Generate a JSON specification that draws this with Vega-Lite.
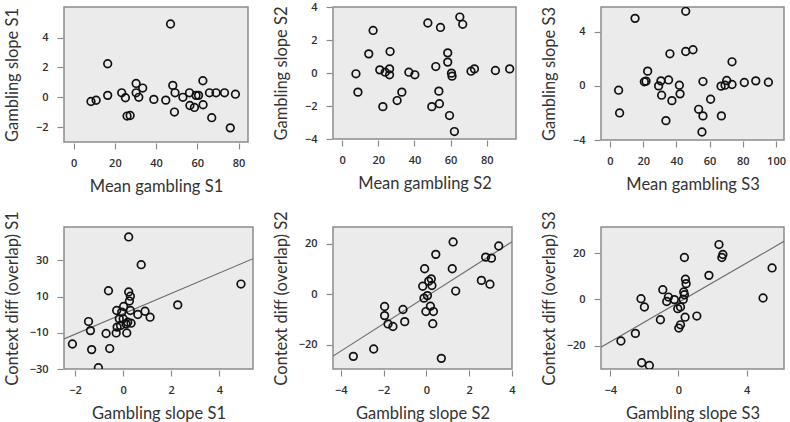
{
"$schema": "https://vega.github.io/schema/vega-lite/v6.json",
"background": "white",
"padding": {"left": 3, "top": 0, "right": 0, "bottom": 0},
"bounds": "flush",
"spacing": 220,
"config": {
  "view": {"fill": "#ebebeb", "stroke": "#8c8c8c", "strokeWidth": 1.5},
  "axis": {"domain": false, "grid": false, "tickColor": "#8a8a8a", "tickSize": 6, "tickWidth": 1.2, "offset": 1,
           "labelFont": "Open Sans", "labelFontSize": 11, "labelFontWeight": 600, "labelColor": "#2e2e2e", "labelFlush": false, "labelOverlap": false,
           "titleFont": "Lato", "titleFontSize": 16.5, "titleFontWeight": "normal", "titleColor": "#333333"},
  "axisX": {"labelPadding": 8, "minExtent": 25, "maxExtent": 25, "titlePadding": 10},
  "axisY": {"labelPadding": 9, "minExtent": 28, "maxExtent": 28, "titlePadding": 15},
  "point": {"shape": "circle", "filled": false, "stroke": "#111111", "strokeWidth": 1.7, "size": 58, "opacity": 1}
},
"vconcat": [
  {"bounds": "flush", "spacing": 85, "hconcat": [
    {"width": 184, "height": 135,
     "data": {"values": [
       {"mean":8.4,"slope":-0.28},{"mean":10.9,"slope":-0.2},{"mean":16.5,"slope":2.25},{"mean":16.5,"slope":0.13},
       {"mean":23.3,"slope":0.3},{"mean":25.1,"slope":-0.03},{"mean":25.9,"slope":-1.26},{"mean":27.4,"slope":-1.22},
       {"mean":30.3,"slope":0.93},{"mean":30.3,"slope":0.3},{"mean":31.6,"slope":0},{"mean":33.5,"slope":0.62},
       {"mean":38.9,"slope":-0.14},{"mean":44.7,"slope":-0.19},{"mean":47.0,"slope":4.92},{"mean":48.1,"slope":0.8},
       {"mean":49.2,"slope":0.3},{"mean":48.9,"slope":-0.99},{"mean":53.0,"slope":0},{"mean":56.2,"slope":0.3},
       {"mean":56.4,"slope":-0.55},{"mean":58.6,"slope":-0.68},{"mean":59.4,"slope":0.13},{"mean":60.6,"slope":0.13},
       {"mean":62.7,"slope":1.11},{"mean":62.8,"slope":-0.5},{"mean":65.9,"slope":0.3},{"mean":69.1,"slope":0.3},
       {"mean":67.0,"slope":-1.37},{"mean":73.2,"slope":0.3},{"mean":76.0,"slope":-2.05},{"mean":78.5,"slope":0.21}]},
     "mark": {"type": "point", "clip": true},
     "encoding": {
       "x": {"field": "mean", "type": "quantitative", "title": "Mean gambling S1", "scale": {"domain": [-4.7, 84.6], "nice": false, "zero": false}, "axis": {"values": [0, 20, 40, 60, 80]}},
       "y": {"field": "slope", "type": "quantitative", "title": "Gambling slope S1", "scale": {"domain": [-3.0, 6.06], "nice": false, "zero": false}, "axis": {"values": [-2, 0, 2, 4]}}}},
    {"width": 183, "height": 132,
     "data": {"values": [
       {"mean":7.6,"slope":-0.05},{"mean":8.7,"slope":-1.16},{"mean":17.1,"slope":2.58},{"mean":14.7,"slope":1.16},
       {"mean":20.8,"slope":0.19},{"mean":22.5,"slope":-2.04},{"mean":23.8,"slope":0.05},{"mean":26.2,"slope":0.25},
       {"mean":26.2,"slope":-0.11},{"mean":26.5,"slope":1.3},{"mean":30.4,"slope":-1.67},{"mean":33.0,"slope":-1.16},
       {"mean":36.9,"slope":0.05},{"mean":40.2,"slope":-0.11},{"mean":47.4,"slope":3.03},{"mean":49.6,"slope":-2.04},
       {"mean":51.8,"slope":0.39},{"mean":53.5,"slope":-1.1},{"mean":53.8,"slope":-1.86},{"mean":54.4,"slope":2.76},
       {"mean":58.4,"slope":1.22},{"mean":58.4,"slope":0.66},{"mean":59.4,"slope":-2.58},{"mean":60.5,"slope":-0.01},
       {"mean":60.8,"slope":-0.19},{"mean":62.1,"slope":-3.55},{"mean":65.1,"slope":3.39},{"mean":66.7,"slope":2.95},
       {"mean":71.3,"slope":0.11},{"mean":73.2,"slope":0.25},{"mean":84.8,"slope":0.15},{"mean":92.7,"slope":0.25}]},
     "mark": {"type": "point", "clip": true},
     "encoding": {
       "x": {"field": "mean", "type": "quantitative", "title": "Mean gambling S2", "scale": {"domain": [-5.1, 96.2], "nice": false, "zero": false}, "axis": {"values": [0, 20, 40, 60, 80]}},
       "y": {"field": "slope", "type": "quantitative", "title": "Gambling slope S2", "scale": {"domain": [-4, 4], "nice": false, "zero": false}, "axis": {"values": [-4, -2, 0, 2, 4]}}}},
    {"width": 183, "height": 133,
     "data": {"values": [
       {"mean":5.2,"slope":-0.32},{"mean":5.8,"slope":-2.0},{"mean":15.1,"slope":4.99},{"mean":20.7,"slope":0.3},
       {"mean":22.7,"slope":1.09},{"mean":21.7,"slope":0.35},{"mean":29.3,"slope":0},{"mean":30.7,"slope":0.37},
       {"mean":31.1,"slope":-0.69},{"mean":33.7,"slope":-2.57},{"mean":35.3,"slope":0.44},{"mean":36.1,"slope":2.37},
       {"mean":37.3,"slope":-1.09},{"mean":41.8,"slope":0.05},{"mean":42.2,"slope":-0.59},{"mean":45.6,"slope":5.51},
       {"mean":45.6,"slope":2.54},{"mean":50.0,"slope":2.67},{"mean":53.4,"slope":-1.73},{"mean":56.0,"slope":0.32},
       {"mean":56.0,"slope":-2.22},{"mean":55.4,"slope":-3.41},{"mean":60.6,"slope":-0.99},{"mean":66.9,"slope":-0.02},
       {"mean":67.1,"slope":-2.22},{"mean":70.3,"slope":0.4},{"mean":69.3,"slope":0.05},{"mean":73.5,"slope":1.78},
       {"mean":73.5,"slope":0.1},{"mean":80.9,"slope":0.25},{"mean":87.8,"slope":0.37},{"mean":95.4,"slope":0.27}]},
     "mark": {"type": "point", "clip": true},
     "encoding": {
       "x": {"field": "mean", "type": "quantitative", "title": "Mean gambling S3", "scale": {"domain": [-5.4, 104.8], "nice": false, "zero": false}, "axis": {"values": [0, 20, 40, 60, 80, 100]}},
       "y": {"field": "slope", "type": "quantitative", "title": "Gambling slope S3", "scale": {"domain": [-4, 5.83], "nice": false, "zero": false}, "axis": {"values": [-4, 0, 4]}}}}
  ]},
  {"bounds": "flush", "spacing": 80, "hconcat": [
    {"width": 189, "height": 142,
     "encoding": {
       "x": {"field": "slope", "type": "quantitative", "title": "Gambling slope S1", "scale": {"domain": [-2.46, 5.4], "nice": false, "zero": false}, "axis": {"values": [-2, 0, 2, 4]}},
       "y": {"field": "context_diff", "type": "quantitative", "title": "Context diff (overlap) S1", "scale": {"domain": [-30, 48.4], "nice": false, "zero": false}, "axis": {"values": [-30, -10, 10, 30]}}},
     "layer": [
       {"data": {"values": [{"slope":-2.46,"context_diff":-13.4},{"slope":5.4,"context_diff":30.9}]},
        "mark": {"type": "line", "color": "#6e6e6e", "strokeWidth": 1.2, "clip": true}},
       {"data": {"values": [
         {"slope":-2.11,"context_diff":-16.2},{"slope":-1.44,"context_diff":-3.8},{"slope":-1.36,"context_diff":-8.8},
         {"slope":-1.31,"context_diff":-19.3},{"slope":-1.03,"context_diff":-29.3},{"slope":-0.71,"context_diff":-10.4},
         {"slope":-0.61,"context_diff":13.2},{"slope":-0.56,"context_diff":-18.7},{"slope":-0.29,"context_diff":-10.1},
         {"slope":-0.25,"context_diff":-6.9},{"slope":-0.27,"context_diff":2.3},{"slope":-0.16,"context_diff":-2.3},
         {"slope":-0.06,"context_diff":1.4},{"slope":0.02,"context_diff":4.5},{"slope":0.12,"context_diff":-5.1},
         {"slope":0.15,"context_diff":-10.1},{"slope":0.19,"context_diff":-4.2},{"slope":0.23,"context_diff":42.9},
         {"slope":0.23,"context_diff":12.5},{"slope":0.26,"context_diff":7.5},{"slope":0.3,"context_diff":10.2},
         {"slope":0.3,"context_diff":2.3},{"slope":0.33,"context_diff":-4.7},{"slope":0.61,"context_diff":0.1},
         {"slope":0.75,"context_diff":27.6},{"slope":0.91,"context_diff":1.9},{"slope":1.12,"context_diff":-1.4},
         {"slope":2.27,"context_diff":5.4},{"slope":4.9,"context_diff":16.9},{"slope":0.0,"context_diff":-2.3},
         {"slope":-0.11,"context_diff":-6.0}]},
        "mark": {"type": "point", "clip": true}}
     ]},
    {"bounds": "flush", "spacing": 89, "hconcat": [
      {"width": 179, "height": 142,
       "encoding": {
         "x": {"field": "slope", "type": "quantitative", "title": "Gambling slope S2", "scale": {"domain": [-4.36, 4.0], "nice": false, "zero": false}, "axis": {"values": [-4, -2, 0, 2, 4]}},
         "y": {"field": "context_diff", "type": "quantitative", "title": "Context diff (overlap) S2", "scale": {"domain": [-29.5, 26.6], "nice": false, "zero": false}, "axis": {"values": [-20, 0, 20]}}},
       "layer": [
         {"data": {"values": [{"slope":-4.36,"context_diff":-24.4},{"slope":4.0,"context_diff":20.75}]},
          "mark": {"type": "line", "color": "#6e6e6e", "strokeWidth": 1.2, "clip": true}},
         {"data": {"values": [
           {"slope":-3.41,"context_diff":-24.5},{"slope":-2.46,"context_diff":-21.6},{"slope":-1.95,"context_diff":-4.8},
           {"slope":-1.95,"context_diff":-8.4},{"slope":-1.79,"context_diff":-11.7},{"slope":-1.56,"context_diff":-12.7},
           {"slope":-1.09,"context_diff":-6.0},{"slope":-1.01,"context_diff":-10.8},{"slope":-0.17,"context_diff":3.2},
           {"slope":-0.08,"context_diff":10.1},{"slope":-0.11,"context_diff":-1.5},{"slope":-0.02,"context_diff":-6.8},
           {"slope":0.05,"context_diff":-0.5},{"slope":0.11,"context_diff":5.2},{"slope":0.19,"context_diff":-4.7},
           {"slope":0.23,"context_diff":6.1},{"slope":0.26,"context_diff":3.5},{"slope":0.33,"context_diff":-6.8},
           {"slope":0.3,"context_diff":-11.6},{"slope":0.44,"context_diff":15.8},{"slope":0.7,"context_diff":-25.3},
           {"slope":1.21,"context_diff":10.1},{"slope":1.25,"context_diff":20.7},{"slope":1.37,"context_diff":1.3},
           {"slope":2.57,"context_diff":5.5},{"slope":2.77,"context_diff":14.7},{"slope":3.04,"context_diff":14.3},
           {"slope":2.97,"context_diff":4.0},{"slope":3.38,"context_diff":19.1}]},
          "mark": {"type": "point", "clip": true}}
       ]},
      {"width": 183, "height": 142,
       "encoding": {
         "x": {"field": "slope", "type": "quantitative", "title": "Gambling slope S3", "scale": {"domain": [-4.55, 6.2], "nice": false, "zero": false}, "axis": {"values": [-4, 0, 4]}},
         "y": {"field": "context_diff", "type": "quantitative", "title": "Context diff (overlap) S3", "scale": {"domain": [-30.1, 31.3], "nice": false, "zero": false}, "axis": {"values": [-20, 0, 20]}}},
       "layer": [
         {"data": {"values": [{"slope":-4.55,"context_diff":-20.7},{"slope":6.2,"context_diff":25.1}]},
          "mark": {"type": "line", "color": "#6e6e6e", "strokeWidth": 1.2, "clip": true}},
         {"data": {"values": [
           {"slope":-3.38,"context_diff":-18.0},{"slope":-2.53,"context_diff":-14.7},{"slope":-2.2,"context_diff":0.3},
           {"slope":-2.0,"context_diff":-3.3},{"slope":-2.16,"context_diff":-27.4},{"slope":-1.71,"context_diff":-28.6},
           {"slope":-1.06,"context_diff":-8.8},{"slope":-0.92,"context_diff":4.2},{"slope":-0.69,"context_diff":-0.9},
           {"slope":-0.59,"context_diff":1.0},{"slope":-0.24,"context_diff":-0.1},{"slope":-0.04,"context_diff":-4.0},
           {"slope":0.02,"context_diff":-12.4},{"slope":0.12,"context_diff":-11.0},{"slope":0.12,"context_diff":-3.3},
           {"slope":0.28,"context_diff":0},{"slope":0.31,"context_diff":3.2},{"slope":0.35,"context_diff":2.0},
           {"slope":0.35,"context_diff":18.1},{"slope":0.41,"context_diff":8.7},{"slope":0.45,"context_diff":6.8},
           {"slope":0.39,"context_diff":-7.7},{"slope":1.08,"context_diff":-7.2},{"slope":1.79,"context_diff":10.4},
           {"slope":2.38,"context_diff":23.7},{"slope":2.61,"context_diff":19.4},{"slope":2.55,"context_diff":18.1},
           {"slope":4.97,"context_diff":0.6},{"slope":5.5,"context_diff":13.6}]},
          "mark": {"type": "point", "clip": true}}
       ]}
    ]}
  ]}
]
}
